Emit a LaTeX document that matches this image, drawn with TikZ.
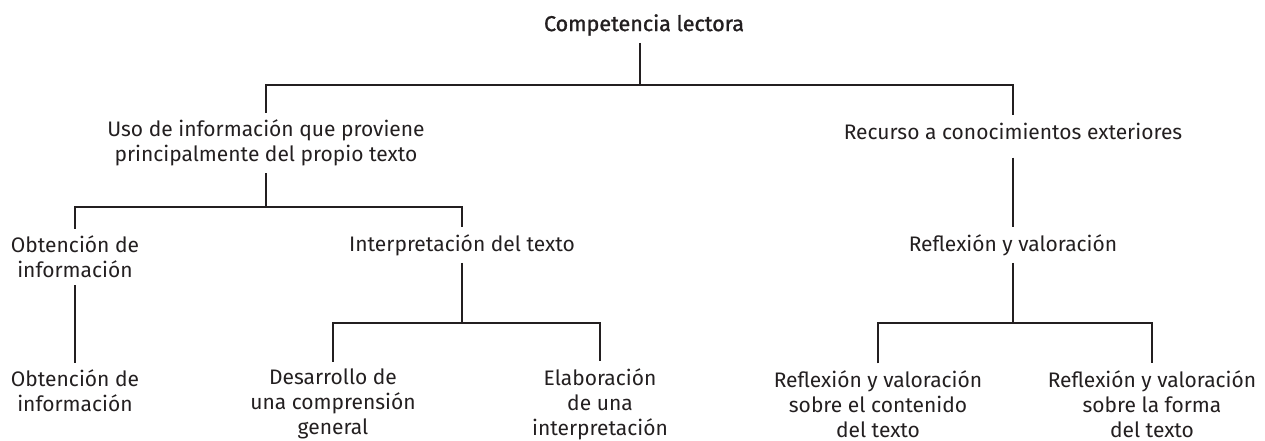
\documentclass[tikz,border=0pt]{standalone}
\usepackage{fontspec}
\setmainfont{Fira Sans}
\newfontfamily\rootfont{Fira Sans}[FakeBold=1.2]
\definecolor{ink}{HTML}{231F20}
\begin{document}
\begin{tikzpicture}[x=1pt,y=-1pt,
  lbl/.style={font=\fontsize{21}{25}\selectfont, align=center, inner xsep=0pt, inner ysep=7pt, text=ink},
  rootlbl/.style={lbl, font=\rootfont\fontsize{21.5}{25}\selectfont},
  link/.style={draw=ink, line width=2.3pt}]
\useasboundingbox (0,0) rectangle (1265,441);
% nodes
\node[rootlbl] (root) at (644,25) {Competencia lectora};
\node[lbl] (uso) at (266,143) {Uso de información que proviene\\principalmente del propio texto};
\node[lbl] (recurso) at (1013,131) {Recurso a conocimientos exteriores};
\node[lbl] (obt1) at (75,257) {Obtención de\\información};
\node[lbl] (interp) at (462,245) {Interpretación del texto};
\node[lbl] (refl) at (1013,245) {Reflexión y valoración};
\node[lbl] (obt2) at (75,391) {Obtención de\\información};
\node[lbl] (desa) at (333,404) {Desarrollo de\\una comprensión\\general};
\node[lbl] (elab) at (600,404) {Elaboración\\de una\\interpretación};
\node[lbl] (rc) at (878,404) {Reflexión y valoración\\sobre el contenido\\del texto};
\node[lbl] (rf) at (1152,404) {Reflexión y valoración\\sobre la forma\\del texto};
% bar coordinates
\coordinate (b1) at (640,85);
\coordinate (b2) at (266,207);
\coordinate (b3) at (462,323);
\coordinate (b4) at (1013,323);
% connectors
\draw[link] (root.south -| b1) -- (b1);
\draw[link] (uso.north) |- (b1) -| (recurso.north);
\draw[link] (uso.south) -- (uso.south |- b2);
\draw[link] (obt1.north) |- (b2) -| (interp.north);
\draw[link] (obt1.south) -- (obt2.north);
\draw[link] (interp.south) -- (interp.south |- b3);
\draw[link] (desa.north) |- (b3) -| (elab.north);
\draw[link] (recurso.south) ++(0,11) -- (refl.north);
\draw[link] (refl.south) -- (refl.south |- b4);
\draw[link] (rc.north) |- (b4) -| (rf.north);
\end{tikzpicture}
\end{document}
